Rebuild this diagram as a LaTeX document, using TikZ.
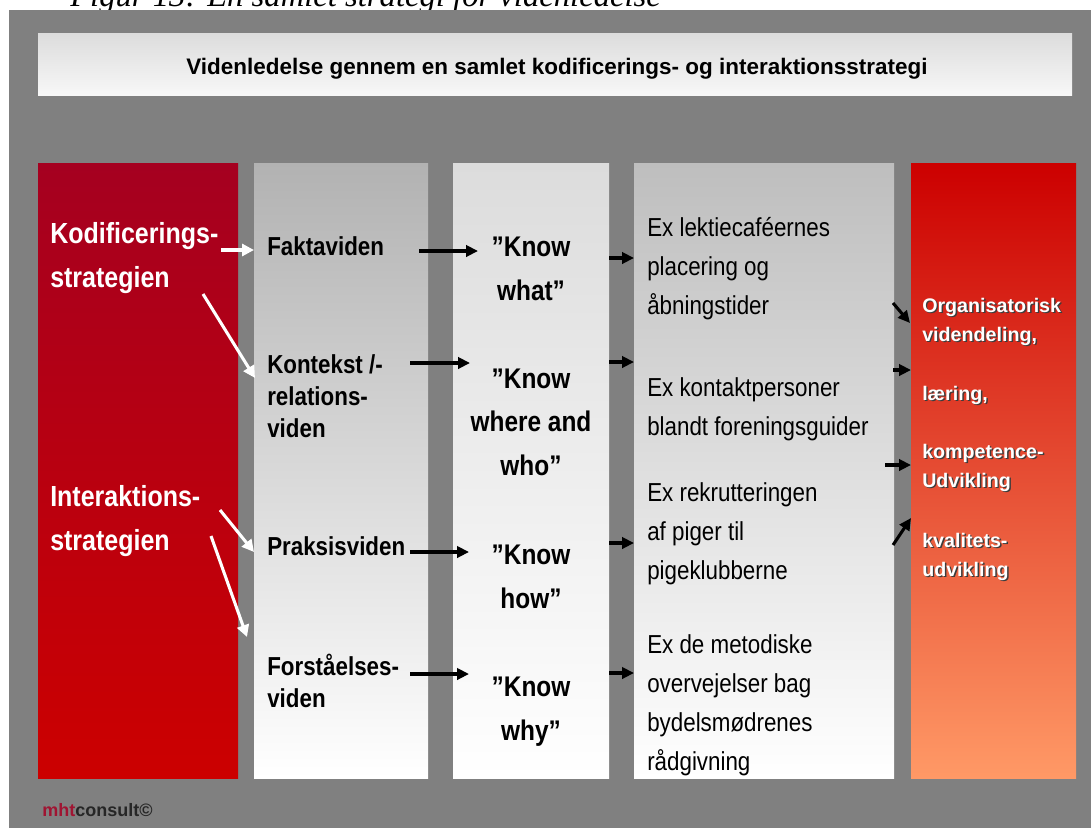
\documentclass[tikz,border=0pt]{standalone}
\usepackage{fontspec}
\setmainfont{Liberation Sans}
\newfontfamily\narrowfont[FakeStretch=0.86]{Liberation Sans}
\newfontfamily\capfont{Liberation Serif}
\usetikzlibrary{arrows.meta,positioning}

\definecolor{panelgray}{RGB}{128,128,128}
\definecolor{stratred}{RGB}{165,0,32}
\definecolor{stratredlow}{RGB}{204,0,0}
\definecolor{kindgray}{RGB}{178,178,178}
\definecolor{knowgray}{RGB}{220,220,220}
\definecolor{exgray}{RGB}{190,190,190}
\definecolor{effectred}{RGB}{204,0,0}
\definecolor{effectsalmon}{RGB}{255,153,102}
\definecolor{mhtred}{RGB}{160,20,50}
\definecolor{shadowgray}{RGB}{60,60,60}

\newcommand{\shadowed}[1]{\makebox[0pt][l]{\raisebox{-1.1pt}{\hspace{1.1pt}\textcolor{shadowgray}{#1}}}#1}

\tikzset{
  colbox/.style={inner sep=0pt, outer sep=0pt, minimum height=461.25pt},
  stratlabel/.style={anchor=base west, align=left, inner sep=0pt, text=white,
    font=\narrowfont\bfseries\fontsize{21.8}{32.5}\selectfont},
  kindlabel/.style={anchor=base west, align=left, inner sep=0pt,
    font=\narrowfont\bfseries\fontsize{19.5}{24}\selectfont},
  knowlabel/.style={anchor=base, align=center, inner sep=0pt,
    font=\narrowfont\bfseries\fontsize{21.3}{32.5}\selectfont},
  exlabel/.style={anchor=base west, align=left, inner sep=0pt,
    font=\narrowfont\fontsize{19.5}{29.25}\selectfont},
  effectlabel/.style={anchor=base west, align=left, inner sep=0pt, text=white,
    font=\bfseries\fontsize{14.75}{21.5}\selectfont},
  barrow/.style={-{Triangle[length=9pt,width=8.5pt]}, line width=2.3pt, black},
  warrow/.style={-{Triangle[length=9pt,width=9pt]}, line width=2.3pt, white},
}

\begin{document}
\begin{tikzpicture}[x=0.75pt,y=-0.75pt]
        \useasboundingbox (0,0) rectangle (1091,828);
        \clip (0,0) rectangle (1091,828);
        \node[anchor=base west, inner sep=0pt, font=\capfont\itshape\fontsize{24.5}{28}\selectfont] at (70,7) (caption) {Figur 13: En samlet strategi for videnledelse};
        \fill[panelgray] (9,10) rectangle (1091,828);
        % title
        \node[inner sep=0pt, minimum width=775.5pt, minimum height=46.5pt, top color=knowgray, bottom color=white!97!black] at (555,64) (titlebox) {};
        \node[anchor=base, inner sep=0pt, font=\bfseries\fontsize{16.85}{20}\selectfont] at (557,74) (title) {Videnledelse gennem en samlet kodificerings- og interaktionsstrategi};
        % columns
        \node[colbox, minimum width=150pt, top color=stratred, bottom color=stratredlow] at (138,470.5) (col1) {};
        \node[colbox, minimum width=130.5pt, top color=kindgray, bottom color=white] at (341,470.5) (col2) {};
        \node[colbox, minimum width=117pt, top color=knowgray, bottom color=white] at (531,470.5) (col3) {};
        \node[colbox, minimum width=195pt, top color=exgray, bottom color=white] at (764,470.5) (col4) {};
        \node[colbox, minimum width=123.75pt, top color=effectred, bottom color=effectsalmon] at (993.5,470.5) (col5) {};
        % strategies (base = last line)
        \node[stratlabel] at (50,287) (kod) {Kodificerings-\\strategien};
        \node[stratlabel] at (50,550) (inter) {Interaktions-\\strategien};
        % kinds of knowledge
        \node[kindlabel] at (267,255) (fakta) {Faktaviden};
        \node[kindlabel] at (267,437) (kont) {Kontekst /-\\relations-\\viden};
        \node[kindlabel] at (267,555) (praks) {Praksisviden};
        \node[kindlabel] at (267,707) (forst) {Forståelses-\\viden};
        \node[knowlabel] at (531,300) (kwhat) {”Know\\what”};
        \node[knowlabel] at (531,475) (kwhere) {”Know\\where and\\who”};
        \node[knowlabel] at (531,608) (khow) {”Know\\how”};
        \node[knowlabel] at (531,740) (kwhy) {”Know\\why”};
        % examples
        \node[exlabel] at (647,314) (exa) {Ex lektiecaféernes\\placering og\\åbningstider};
        \node[exlabel] at (647,435) (exb) {Ex kontaktpersoner\\blandt foreningsguider};
        \node[exlabel] at (647,579) (exc) {Ex rekrutteringen\\af piger til\\pigeklubberne};
        \node[exlabel] at (647,770) (exd) {Ex de metodiske\\overvejelser bag\\bydelsmødrenes\\rådgivning};
        % effects
        \node[effectlabel] at (922,341) (orgl) {\shadowed{Organisatorisk}\\\shadowed{videndeling,}};
        \node[effectlabel] at (922,400) (laer) {\shadowed{læring,}};
        \node[effectlabel] at (922,487) (komp) {\shadowed{kompetence-}\\\shadowed{Udvikling}};
        \node[effectlabel] at (922,576) (kval) {\shadowed{kvalitets-}\\\shadowed{udvikling}};
        \node[anchor=base west, inner sep=0pt, text=black!85, font=\bfseries\fontsize{13.5}{16}\selectfont] at (42,816) (logo) {\textcolor{mhtred}{mht}consult©};
        % strategy arrows
        \draw[warrow] ([xshift=-12.75pt,yshift=27.75pt]kod.base -| col1.east) -- ([yshift=27.75pt]kod.base -| col2.west);
        \draw[warrow] ([xshift=-26.25pt,yshift=-5.25pt]kod.base -| col1.east) -- ([xshift=0.75pt,yshift=44.25pt]kont.base -| col2.west);
        \draw[warrow] ([xshift=-13.5pt,yshift=30pt]inter.base -| col1.east) -- ([yshift=2.25pt]praks.base -| col2.west);
        \draw[warrow] ([xshift=-20.25pt,yshift=10.5pt]inter.base -| col1.east) -- ([xshift=-5.25pt,yshift=52.5pt]forst.base -| col2.west);
        % knowledge arrows
        \draw[barrow] ([xshift=-25.5pt,yshift=3pt]fakta.base -| col3.west) -- ([xshift=18.75pt,yshift=3pt]fakta.base -| col3.west);
        \draw[barrow] ([xshift=-32.25pt,yshift=55.5pt]kont.base -| col3.west) -- ([xshift=12.75pt,yshift=55.5pt]kont.base -| col3.west);
        \draw[barrow] ([xshift=-32.25pt,yshift=2.25pt]praks.base -| col3.west) -- ([xshift=12pt,yshift=2.25pt]praks.base -| col3.west);
        \draw[barrow] ([xshift=-32.25pt,yshift=24.75pt]forst.base -| col3.west) -- ([xshift=12pt,yshift=24.75pt]forst.base -| col3.west);
        \draw[barrow] ([yshift=31.5pt]kwhat.base -| col3.east) -- ([yshift=31.5pt]kwhat.base -| col4.west);
        \draw[barrow] ([yshift=84.75pt]kwhere.base -| col3.east) -- ([yshift=84.75pt]kwhere.base -| col4.west);
        \draw[barrow] ([yshift=48.75pt]khow.base -| col3.east) -- ([yshift=48.75pt]khow.base -| col4.west);
        \draw[barrow] ([yshift=50.25pt]kwhy.base -| col3.east) -- ([yshift=50.25pt]kwhy.base -| col4.west);
        % effect arrows
        \draw[barrow] ([xshift=-0.75pt,yshift=28.5pt]orgl.base -| col4.east) -- ([xshift=-0.75pt,yshift=13.5pt]orgl.base -| col5.west);
        \draw[barrow] ([xshift=-0.75pt,yshift=22.5pt]laer.base -| col4.east) -- ([yshift=22.5pt]laer.base -| col5.west);
        \draw[barrow] ([xshift=-6.75pt,yshift=16.5pt]komp.base -| col4.east) -- ([yshift=16.5pt]komp.base -| col5.west);
        \draw[barrow] ([xshift=-0.75pt,yshift=23.25pt]kval.base -| col4.east) -- ([yshift=43.5pt]kval.base -| col5.west);
\end{tikzpicture}
\end{document}
